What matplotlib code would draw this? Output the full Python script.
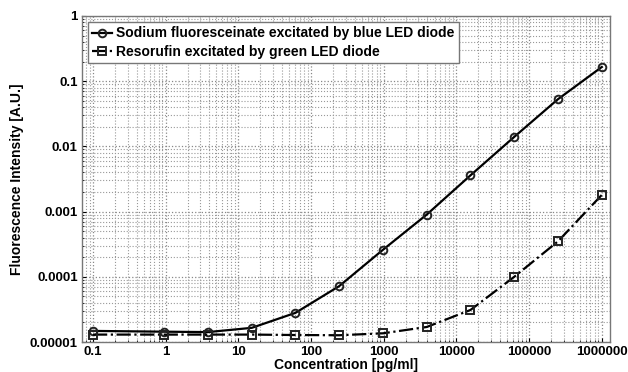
import matplotlib.pyplot as plt
from matplotlib.ticker import LogLocator, FixedLocator, FixedFormatter
import numpy as np

plt.rcParams['font.family'] = ['Liberation Sans', 'DejaVu Sans']
plt.rcParams['font.weight'] = 'bold'

# concentration series [pg/ml]
conc = [0.1, 0.954, 3.81, 15.3, 61.0, 244, 977, 3906, 15625, 62500, 250000, 1000000]
# fluorescence intensity [A.U.]
sodium = [1.48e-5, 1.44e-5, 1.42e-5, 1.65e-5, 2.8e-5, 7.2e-5, 2.6e-4, 9.0e-4,
          3.6e-3, 1.4e-2, 5.3e-2, 0.165]
resorufin = [1.3e-5, 1.3e-5, 1.3e-5, 1.3e-5, 1.28e-5, 1.27e-5, 1.36e-5, 1.7e-5,
             3.1e-5, 1.0e-4, 3.5e-4, 1.8e-3]

xticks = [0.1, 1, 10, 100, 1000, 10000, 100000, 1000000]
xtick_labels = ['0.1', '1', '10', '100', '1000', '10000', '100000', '1000000']
yticks = [1e-5, 1e-4, 1e-3, 1e-2, 1e-1, 1]
ytick_labels = ['0.00001', '0.0001', '0.001', '0.01', '0.1', '1']

fig = plt.figure(figsize=(6.28, 3.72), dpi=100)
ax = fig.add_axes([0.1306, 0.0806, 0.8404, 0.8764])

ax.plot(conc, sodium, '-', color='black', linewidth=1.6, marker='o',
        markersize=5.5, markerfacecolor='none', markeredgecolor='#222222',
        markeredgewidth=1.4,
        label='Sodium fluoresceinate excitated by blue LED diode')
ax.plot(conc, resorufin, '-.', color='black', linewidth=1.6, marker='s',
        markersize=5.5, markerfacecolor='none', markeredgecolor='#222222',
        markeredgewidth=1.4,
        label='Resorufin excitated by green LED diode')

ax.set_xscale('log')
ax.set_yscale('log')
ax.set_xlim(0.0706, 1.29e6)
ax.set_ylim(1e-5, 1)

ax.xaxis.set_major_locator(FixedLocator(xticks))
ax.xaxis.set_major_formatter(FixedFormatter(xtick_labels))
ax.yaxis.set_major_locator(FixedLocator(yticks))
ax.yaxis.set_major_formatter(FixedFormatter(ytick_labels))
ax.xaxis.set_minor_locator(LogLocator(base=10, subs=np.arange(2, 10), numticks=20))
ax.yaxis.set_minor_locator(LogLocator(base=10, subs=np.arange(2, 10), numticks=20))

ax.grid(True, which='major', color='#888888', linestyle=':', linewidth=0.9)
ax.grid(True, which='minor', color='#999999', linestyle=':', linewidth=0.8)
ax.tick_params(which='both', direction='in', labelsize=9.5, pad=3)
ax.tick_params(which='major', length=3)
ax.tick_params(which='minor', length=1.5)
for lab in ax.get_xticklabels() + ax.get_yticklabels():
    lab.set_fontweight('bold')
for s in ax.spines.values():
    s.set_color('#777777')
    s.set_linewidth(1.0)

ax.set_xlabel('Concentration [pg/ml]', fontsize=10, fontweight='bold', labelpad=0)
ax.set_ylabel('Fluorescence Intensity [A.U.]', fontsize=10, fontweight='bold', labelpad=4)

leg = ax.legend(loc='upper left', fontsize=10, frameon=True, fancybox=False,
                borderaxespad=0.4, handlelength=1.4, handletextpad=0.3,
                borderpad=0.35, labelspacing=0.3, framealpha=1.0)
leg.get_frame().set_edgecolor('#777777')
leg.get_frame().set_linewidth(1.0)
for t in leg.get_texts():
    t.set_fontweight('bold')

plt.savefig('out.png', dpi=100)
